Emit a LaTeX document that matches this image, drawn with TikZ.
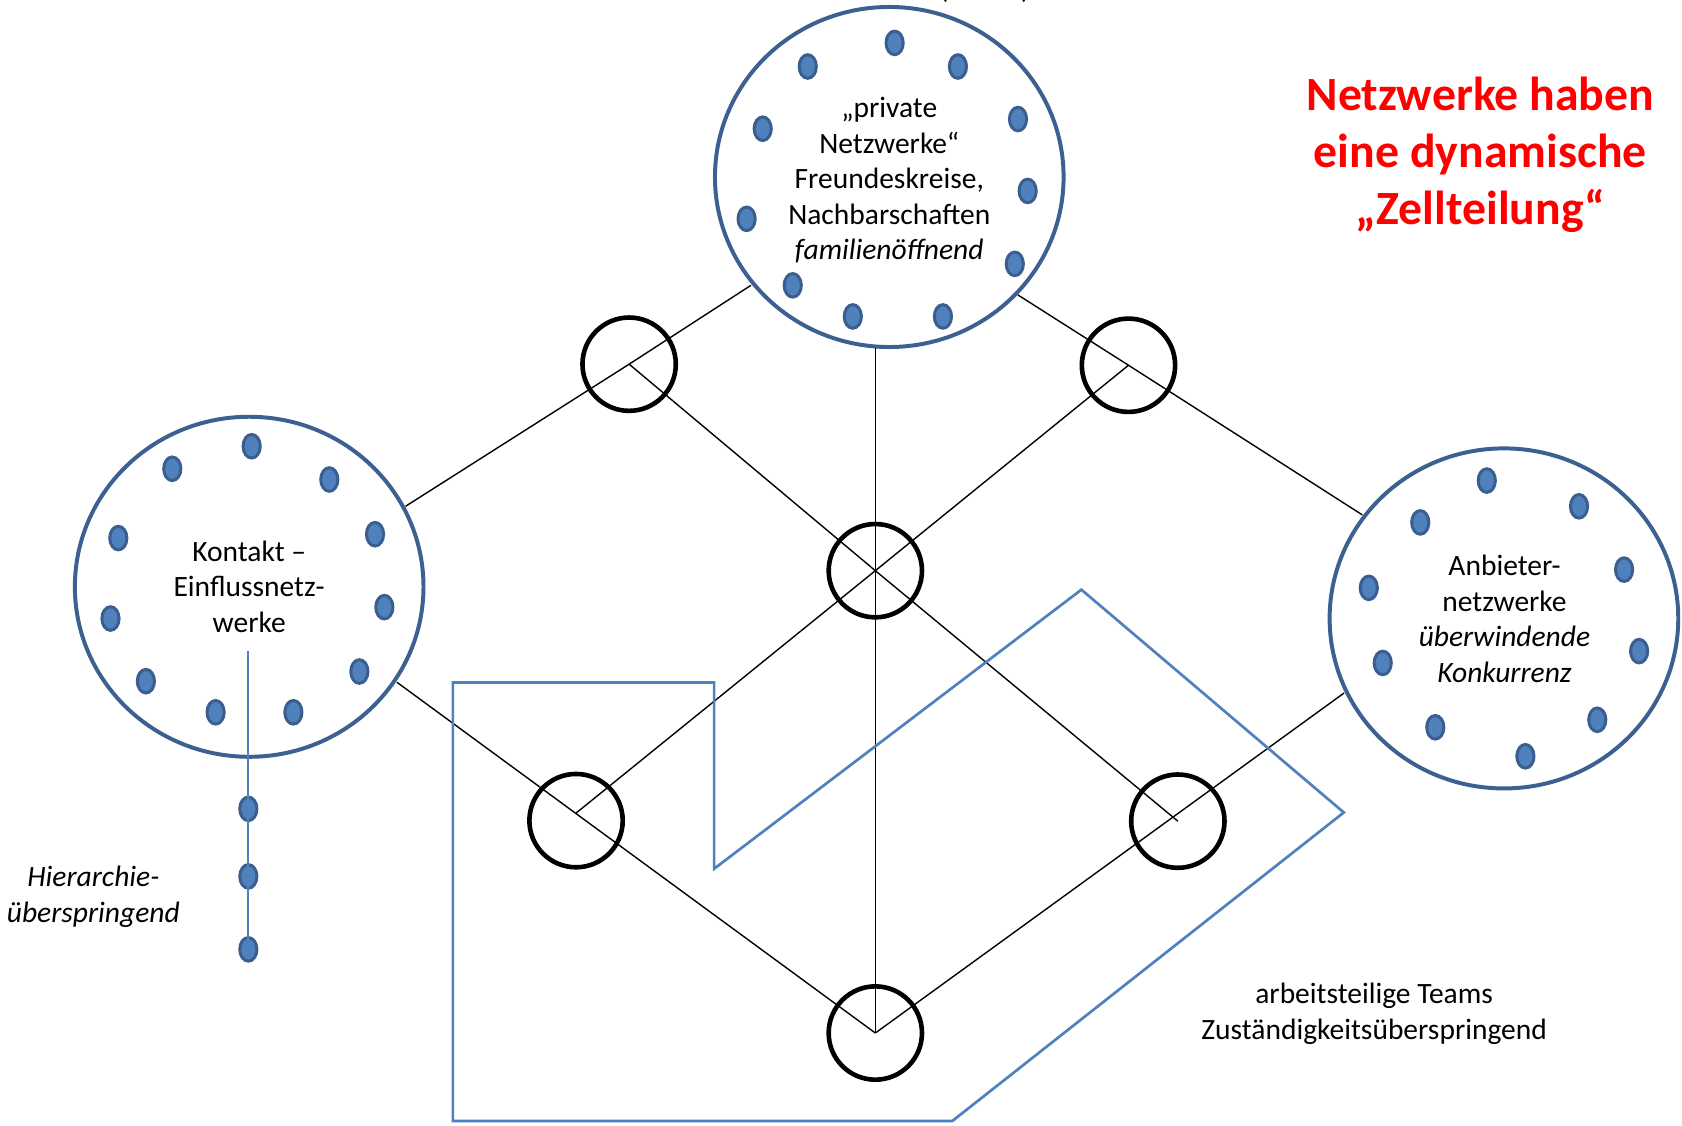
\documentclass[tikz,border=0pt]{standalone}
\usepackage{fontspec}
\setmainfont{Carlito}
\usetikzlibrary{shapes.geometric}
\definecolor{bigblue}{HTML}{3C6190}
\definecolor{dotfill}{HTML}{4F81BD}
\definecolor{dotline}{HTML}{3A5F8E}
\definecolor{polyblue}{HTML}{4F81BD}
\begin{document}
\begin{tikzpicture}[x=1pt,y=-1pt,
  txt/.style={font=\fontsize{27.5}{33}\selectfont, align=center, inner sep=0pt},
  bigc/.style={ellipse, draw=bigblue, line width=3.7pt, minimum width=325pt, minimum height=317pt, inner sep=0pt},
  smallc/.style={circle, draw=black, line width=4.3pt, minimum size=87pt, inner sep=0pt},
  dotn/.style={ellipse, draw=dotline, fill=dotfill, line width=2.8pt, minimum width=16pt, minimum height=22pt, inner sep=0pt},
  link/.style={draw=black, line width=1.3pt},
  bluepath/.style={draw=polyblue, line width=2.5pt, line join=miter},
  redtxt/.style={font=\fontsize{44.5}{53}\selectfont\bfseries, text=red, align=center, inner sep=0pt},
]
\useasboundingbox[fill=white] (0,0) rectangle (1568,1049);

% heading cut off at the top edge (as in the reference)
\node[anchor=base, font=\fontsize{27.5}{33}\selectfont, inner sep=0pt] (head) at (918,-1.5) {(\hspace{68pt})};

% big network circles
\node[bigc] (top) at (829,165) {};
\node[bigc] (left) at (232.3,547) {};
\node[bigc] (right) at (1402,576.5) {};
\node[txt] (toptxt) at (829,168) {„private\\Netzwerke“\\Freundeskreise,\\Nachbarschaften\\\textit{familienöffnend}};
\node[txt] (lefttxt) at (232.3,547) {Kontakt –\\Einflussnetz-\\werke};
\node[txt] (righttxt) at (1402.5,577) {Anbieter-\\netzwerke\\\textit{überwindende}\\\textit{Konkurrenz}};

% small circles
\node[smallc] (A) at (586.5,339.5) {};
\node[smallc] (B) at (1052,340.5) {};
\node[smallc] (C) at (816,532) {};
\node[smallc] (D) at (537,765) {};
\node[smallc] (E) at (1098,765.5) {};
\node[smallc] (F) at (816,963) {};

% dots
\foreach \x/\y [count=\i] in {834/40,893/62,949/111,958/178,946/246,879/295,795/295,739/266,696/204,711/120,753/62}
  \node[dotn] (td\i) at (\x,\y) {};
\foreach \x/\y [count=\i] in {234.6/416,307/447,349.6/498,358.3/566,335/626,273.5/664,201/664,136/635,103/576.6,110.3/501.6,160.6/437}
  \node[dotn] (ld\i) at (\x,\y) {};
\foreach \x/\y [count=\i] in {1386/448,1472/472,1514/531,1528/607,1489/671,1422/705,1338/678,1289/618,1276/548,1324/487}
  \node[dotn] (rd\i) at (\x,\y) {};
\foreach \y [count=\i] in {754,817,885}
  \node[dotn] (hd\i) at (231.5,\y) {};

% connector end points on the big circles
\coordinate (c1) at (378,472);
\coordinate (c2) at (700,266);
\coordinate (c3) at (949,275);
\coordinate (c4) at (1270,480);
\coordinate (c5) at (816,324);
\coordinate (c6) at (370,636);
\coordinate (c7) at (1253,646);
\coordinate (dj) at (537,758);

% black connectors
\draw[link] (c1) -- (A.center) -- (c2);
\draw[link] (c3) -- (B.center) -- (c4);
\draw[link] (A.center) -- (C.center) -- (E.center);
\draw[link] (B.center) -- (C.center) -- (dj);
\draw[link] (c5) -- (C.center) -- (F.center);
\draw[link] (c6) -- (F.center);
\draw[link] (c7) -- (F.center);

% blue team polygon
\coordinate (p1) at (422.2,636.3);
\coordinate (p2) at (665.7,636.3);
\coordinate (p3) at (665.7,809.9);
\coordinate (p4) at (1008.1,549.7);
\coordinate (p5) at (1252.7,757.4);
\coordinate (p6) at (887.8,1045);
\coordinate (p7) at (422.2,1045);
\draw[bluepath] (p1) -- (p2) -- (p3) -- (p4) -- (p5) -- (p6) -- (p7) -- cycle;

% hierarchy chain
\coordinate (h1) at (231.5,607);
\draw[draw=polyblue, line width=2pt] (h1) -- (hd3.center);

% texts
\node[redtxt] (title) at (1380,144.5) {Netzwerke haben\\eine dynamische\\„Zellteilung“};
\node[txt, font=\fontsize{27.5}{33}\selectfont\itshape] (hier) at (87,836) {Hierarchie-\\überspringend};
\node[txt] (teams) at (1281,945) {arbeitsteilige Teams\\Zuständigkeitsüberspringend};
\end{tikzpicture}
\end{document}
